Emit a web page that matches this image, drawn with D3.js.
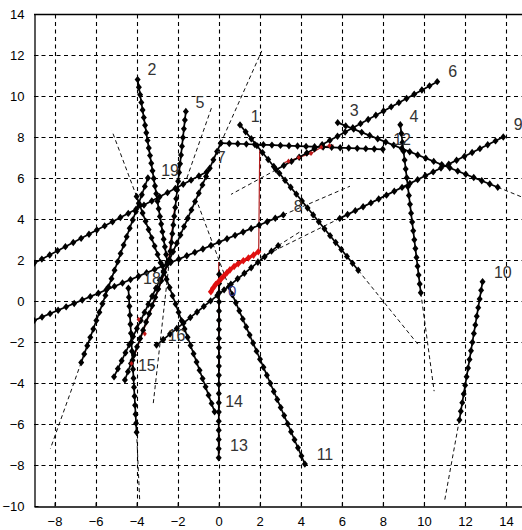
<!DOCTYPE html>
<html>
<head>
<meta charset="utf-8">
<script src="https://cdn.jsdelivr.net/npm/d3@7"></script>
<style>
  html, body { margin: 0; padding: 0; background: #fff; }
  svg { display: block; font-family: Arial, "Liberation Sans", sans-serif; }
</style>
</head>
<body>
<svg id="chart" width="522" height="530"></svg>
<script>
// ---- data ----
const xTicks = [-8, -6, -4, -2, 0, 2, 4, 6, 8, 10, 12, 14];
const yTicks = [-10, -8, -6, -4, -2, 0, 2, 4, 6, 8, 10, 12, 14];

// bearing lines (solid with diamond markers)
const lineStart = [
  [1.04, 8.59], [-3.95, 10.8], [5.8, 8.7], [8.85, 8.6], [-1.6, 9.25],
  [10.65, 10.7], [0.1, 7.7], [3.15, 4.2], [13.87, 8.0], [12.86, 0.94],
  [0.5, 0.7], [8.0, 7.4], [0.02, 1.3], [-0.2, -5.4], [-4.57, -3.85],
  [-3.03, -2.15], [-5.1, -3.7], [-4.4, 0.62], [-9.0, 1.84], [-6.7, -3.0]
];
const lineEnd = [
  [6.8, 1.5], [-2.5, 1.9], [13.6, 5.55], [9.85, 0.4], [-2.4, 2.0],
  [2.8, 6.4], [-2.4, 2.0], [-9.0, -0.95], [5.9, 4.03], [11.73, -5.8],
  [4.2, -7.95], [0.1, 7.7], [0.0, -7.65], [-4.0, 5.1], [-2.5, 1.8],
  [2.9, 2.7], [-2.5, 1.8], [-4.0, -6.4], [-0.58, 6.3], [-3.45, 6.0]
];
const markerCounts = [22, 25, 21, 20, 18, 22, 15, 32, 22, 17, 23, 20, 21, 27, 15, 19, 15, 17, 23, 23];

// thin dashed extensions of the bearing lines
const extStart = [
  [6.8, 1.5], [13.6, 5.55], [9.85, 0.4], [-2.4, 2.0], [2.8, 6.4],
  [0.1, 7.7], [3.15, 4.2], [5.9, 4.03], [11.73, -5.8], [0.5, 0.7],
  [-4.0, -6.4], [-4.0, 5.1], [-6.7, -3.0], [2.9, 2.7], [-1.55, 6.0]
];
const extEnd = [
  [9.7, -2.1], [15.0, 4.98], [10.5, -4.4], [-3.2, -5.1], [0.6, 5.2],
  [2.1, 12.2], [6.4, 5.6], [1.9, 2.05], [11.0, -9.8], [-1.0, 4.7],
  [-3.85, -9.7], [-5.2, 8.3], [-8.2, -7.2], [4.0, 3.4], [-0.34, 9.45]
];

// red estimated track (thick markers)
const redTrack = [
  [-0.38, 0.45], [-0.28, 0.62], [-0.15, 0.8], [0.0, 0.95], [0.12, 1.08],
  [0.25, 1.22], [0.4, 1.38], [0.55, 1.52], [0.75, 1.68], [0.95, 1.82],
  [1.2, 1.96], [1.45, 2.1], [1.7, 2.24], [1.93, 2.4]
];
// thin red lines
const redThin = [
  [[0.0, 1.9], [0.0, -7.65]],
  [[1.95, 2.4], [2.0, 7.4]],
  [[-2.15, 4.5], [-2.45, 1.9]],
  [[-2.45, 1.9], [-4.3, -3.2]],
  [[3.2, 6.75], [3.9, 7.0], [4.5, 7.2], [5.0, 7.5], [5.6, 7.6]]
];
const redSmallMarkers = [[3.4, 6.82], [3.9, 7.0], [4.5, 7.2], [5.0, 7.5], [5.4, 7.58], [-3.9, -0.9], [-4.25, -3.05], [-3.6, -1.6]];

// labels
const labelText = ["1", "2", "3", "4", "5", "6", "7", "8", "9", "10", "11", "12", "13", "14", "15", "16", "18", "19"];
const labelPos = [
  [1.78, 9.02], [-3.25, 11.3], [6.6, 9.27], [9.52, 9.02], [-0.91, 9.7],
  [11.4, 11.2], [0.12, 6.98], [3.87, 4.63], [14.6, 8.6], [13.85, 1.4],
  [5.18, -7.5], [8.94, 7.9], [0.99, -7.07], [0.75, -4.88], [-3.5, -3.17],
  [-2.05, -1.7], [-3.25, 1.12], [-2.37, 6.39]
];
const extraLabel = { text: "0", pos: [0.66, 0.5] };

// ---- drawing ----
const svg = d3.select("#chart");
const x = d3.scaleLinear().domain([-9, 15]).range([34, 34 + 24 * 20.52]);
const y = d3.scaleLinear().domain([-10, 14]).range([506, 14]);
const [x0, x1] = x.range();
const [yb, yt] = y.range();

svg.append("defs").append("clipPath").attr("id", "clip")
  .append("rect").attr("x", x0).attr("y", yt).attr("width", x1 - x0).attr("height", yb - yt);

svg.append("rect").attr("x", x0).attr("y", yt).attr("width", x1 - x0).attr("height", yb - yt).attr("fill", "#fff");

// grid
const grid = svg.append("g").attr("stroke", "#000").attr("stroke-width", 1.1).attr("stroke-dasharray", "4,3.5");
grid.selectAll(".gx").data(xTicks).join("line")
  .attr("x1", d => Math.round(x(d)) + 0.5).attr("x2", d => Math.round(x(d)) + 0.5)
  .attr("y1", yb).attr("y2", yt);
grid.selectAll(".gy").data(yTicks.filter(d => d !== -10 && d !== 14)).join("line")
  .attr("y1", d => Math.round(y(d)) + 0.5).attr("y2", d => Math.round(y(d)) + 0.5)
  .attr("x1", x0).attr("x2", x1);

// axes with ticks (inward) + labels
const xAxis = d3.axisBottom(x).tickValues(xTicks).tickSizeInner(-4).tickSizeOuter(0).tickPadding(10);
const yAxis = d3.axisLeft(y).tickValues(yTicks).tickSizeInner(-4).tickSizeOuter(0).tickPadding(9);
const gx = svg.append("g").attr("transform", `translate(0,${yb + 0.5})`).call(xAxis);
const gy = svg.append("g").attr("transform", `translate(${x0 + 0.5},0)`).call(yAxis);
[gx, gy].forEach(g => {
  g.select(".domain").attr("stroke", "#000").attr("stroke-width", 1.3);
  g.selectAll(".tick line").attr("stroke", "#000");
  g.selectAll(".tick text").attr("fill", "#000").attr("font-size", 13)
    .attr("font-family", "Arial, 'Liberation Sans', sans-serif");
});
gy.selectAll(".tick text").attr("dx", "-1");
// top border
svg.append("line").attr("x1", x0).attr("x2", x1).attr("y1", yt + 0.5).attr("y2", yt + 0.5)
  .attr("stroke", "#000").attr("stroke-width", 1.3);

const plot = svg.append("g").attr("clip-path", "url(#clip)");

// dashed extensions
plot.append("g").selectAll("line").data(d3.range(extStart.length)).join("line")
  .attr("x1", i => x(extStart[i][0])).attr("y1", i => y(extStart[i][1]))
  .attr("x2", i => x(extEnd[i][0])).attr("y2", i => y(extEnd[i][1]))
  .attr("stroke", "#111").attr("stroke-width", 1).attr("stroke-dasharray", "4,3");

// thin red lines
const redLine = d3.line().x(d => x(d[0])).y(d => y(d[1]));
plot.append("g").selectAll("path").data(redThin).join("path")
  .attr("d", redLine).attr("fill", "none").attr("stroke", "#b02020").attr("stroke-width", 1.2);

// bearing lines
const diamond = "M0,-3.7L3,0L0,3.7L-3,0Z";
const lines = plot.append("g");
d3.range(lineStart.length).forEach(i => {
  const a = lineStart[i], b = lineEnd[i], n = markerCounts[i];
  lines.append("line")
    .attr("x1", x(a[0])).attr("y1", y(a[1])).attr("x2", x(b[0])).attr("y2", y(b[1]))
    .attr("stroke", "#000").attr("stroke-width", 1.7);
  const pts = d3.range(n).map(k => {
    const t = k / (n - 1);
    return [a[0] + (b[0] - a[0]) * t, a[1] + (b[1] - a[1]) * t];
  });
  lines.append("g").selectAll("path").data(pts).join("path")
    .attr("d", diamond)
    .attr("transform", d => `translate(${x(d[0])},${y(d[1])})`)
    .attr("fill", "#000");
});

// red small markers
plot.append("g").selectAll("path").data(redSmallMarkers).join("path")
  .attr("d", "M0,-2.6L2,0L0,2.6L-2,0Z")
  .attr("transform", d => `translate(${x(d[0])},${y(d[1])})`)
  .attr("fill", "#c01818");

// red thick track
plot.append("path").datum(redTrack).attr("d", redLine)
  .attr("fill", "none").attr("stroke", "#e01010").attr("stroke-width", 3.2);
plot.append("g").selectAll("path").data(redTrack).join("path")
  .attr("d", "M0,-3.8L3,0L0,3.8L-3,0Z")
  .attr("transform", d => `translate(${x(d[0])},${y(d[1])})`)
  .attr("fill", "#e01010");

// labels
svg.append("g").selectAll("text").data(d3.range(labelText.length)).join("text")
  .attr("x", i => x(labelPos[i][0])).attr("y", i => y(labelPos[i][1]))
  .attr("text-anchor", "middle").attr("dominant-baseline", "central")
  .attr("font-size", 16).attr("fill", "#333")
  .text(i => labelText[i]);
svg.append("text").attr("x", x(extraLabel.pos[0])).attr("y", y(extraLabel.pos[1]))
  .attr("text-anchor", "middle").attr("dominant-baseline", "central")
  .attr("font-size", 15).attr("fill", "#34378a").text(extraLabel.text);
</script>
</body>
</html>
